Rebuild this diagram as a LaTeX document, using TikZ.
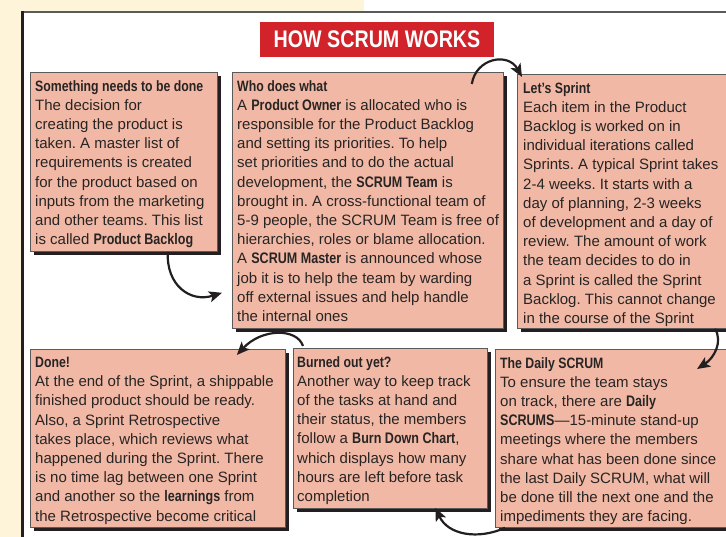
\documentclass[tikz,border=0pt]{standalone}
\usepackage{fontspec}
\setmainfont{Liberation Sans}
\newfontfamily\cb[FakeStretch=0.82]{Liberation Sans}
\usetikzlibrary{arrows.meta,shadows}
\definecolor{pinkc}{RGB}{241,185,165}
\definecolor{borderc}{RGB}{90,90,90}
\definecolor{shadowc}{RGB}{35,31,32}
\definecolor{textc}{RGB}{40,36,36}
\definecolor{redc}{RGB}{210,35,42}
\definecolor{creamc}{RGB}{253,244,218}
\newcommand\B[1]{{\cb\bfseries\fontsize{15.3}{19.2}\selectfont #1}}
\newcommand\Hd[1]{{\cb\bfseries\fontsize{15}{19.2}\selectfont #1}}
\frenchspacing
\begin{document}
\begin{tikzpicture}[x=1pt,y=-1pt,
  box/.style={draw=borderc, line width=0.8pt, fill=pinkc, anchor=north west, inner sep=0pt,
    general shadow={fill=shadowc, shadow xshift=3.5pt, shadow yshift=-3.5pt}},
  txt/.style={anchor=north west, inner sep=0pt, align=left, text=textc,
    font=\fontsize{15}{19.2}\selectfont\frenchspacing},
  conn/.style={line width=2.2pt, draw=shadowc, -{Stealth[length=13pt,width=11pt,inset=3pt]}}]
\useasboundingbox (0,0) rectangle (726,537);
\clip (0,0) rectangle (726,537);
% background
\fill[creamc] (0,0) rectangle (21,537);
\fill[creamc] (0,0) rectangle (364,11);
\draw[line width=2pt, color=borderc] (22,12) -- (726,12);
\draw[line width=3pt, color=shadowc] (22,11) -- (22,537);
% title
\node[fill=redc, minimum width=234pt, minimum height=35pt, inner sep=0pt,
  text=white, font=\cb\bfseries\fontsize{24}{24}\selectfont] (title) at (377,39.5) {HOW SCRUM WORKS};
% boxes
\node[box, minimum width=187pt, minimum height=179pt] (b1) at (30,72) {};
\node[box, minimum width=271pt, minimum height=256pt] (b2) at (232,72) {};
\node[box, minimum width=230pt, minimum height=254pt] (b3) at (517,74) {};
\node[box, minimum width=255pt, minimum height=178pt] (b4) at (30,349) {};
\node[box, minimum width=194pt, minimum height=160pt] (b5) at (293,348) {};
\node[box, minimum width=250pt, minimum height=178pt] (b6) at (495,349) {};
% texts
\node[txt] (t1) at ([xshift=5pt,yshift=-8pt]b1.north west) {\Hd{Something needs to be done}\\
The decision for\\
creating the product is\\
taken. A master list of\\
requirements is created\\
for the product based on\\
inputs from the marketing\\
and other teams. This list\\
is called \B{Product Backlog}};
\node[txt] (t2) at ([xshift=5pt,yshift=-8pt]b2.north west) {\Hd{Who does what}\\
A \B{Product Owner} is allocated who is\\
responsible for the Product Backlog\\
and setting its priorities. To help\\
set priorities and to do the actual\\
development, the \B{SCRUM Team} is\\
brought in. A cross-functional team of\\
5-9 people, the SCRUM Team is free of\\
hierarchies, roles or blame allocation.\\
A \B{SCRUM Master} is announced whose\\
job it is to help the team by warding\\
off external issues and help handle\\
the internal ones};
\node[txt] (t3) at ([xshift=6pt,yshift=-8pt]b3.north west) {\Hd{Let’s Sprint}\\
Each item in the Product\\
Backlog is worked on in\\
individual iterations called\\
Sprints. A typical Sprint takes\\
2-4 weeks. It starts with a\\
day of planning, 2-3 weeks\\
of development and a day of\\
review. The amount of work\\
the team decides to do in\\
a Sprint is called the Sprint\\
Backlog. This cannot change\\
in the course of the Sprint};
\node[txt] (t4) at ([xshift=5pt,yshift=-8pt]b4.north west) {\Hd{Done!}\\
At the end of the Sprint, a shippable\\
finished product should be ready.\\
Also, a Sprint Retrospective\\
takes place, which reviews what\\
happened during the Sprint. There\\
is no time lag between one Sprint\\
and another so the \B{learnings} from\\
the Retrospective become critical};
\node[txt] (t5) at ([xshift=4pt,yshift=-8pt]b5.north west) {\Hd{Burned out yet?}\\
Another way to keep track\\
of the tasks at hand and\\
their status, the members\\
follow a \B{Burn Down Chart},\\
which displays how many\\
hours are left before task\\
completion};
\node[txt] (t6) at ([xshift=5pt,yshift=-8pt]b6.north west) {\Hd{The Daily SCRUM}\\
To ensure the team stays\\
on track, there are \B{Daily}\\
\B{SCRUMS}—15-minute stand-up\\
meetings where the members\\
share what has been done since\\
the last Daily SCRUM, what will\\
be done till the next one and the\\
impediments they are facing.};
% connector end points
\coordinate (s1) at ([xshift=-50pt]b1.south east);
\coordinate (e1) at ([xshift=-10pt,yshift=36pt]b2.south west);
\coordinate (s2) at ([xshift=-32pt,yshift=-12pt]b2.north east);
\coordinate (e2) at ([xshift=5pt,yshift=-3pt]b3.north west);
\coordinate (s3) at ([xshift=198pt]b3.south west);
\coordinate (e3) at ([xshift=202pt,yshift=-20pt]b6.north west);
\coordinate (s4) at ([xshift=10pt,yshift=2pt]b5.north west);
\coordinate (e4) at ([xshift=-49pt,yshift=-6pt]b4.north east);
\coordinate (s5) at ([xshift=10pt]b6.south west);
\coordinate (e5) at ([xshift=45pt,yshift=1pt]b5.south);
% connectors
\draw[conn] (s1) .. controls (166,285) and (190,303) .. (e1);
\draw[conn] (s2) .. controls (476,58) and (508,52) .. (e2);
\draw[conn] (s3) .. controls (723,342) and (714,358) .. (e3);
\draw[conn] (s4) .. controls (297,328) and (262,328) .. (e4);
\draw[conn] (s5) .. controls (478,540) and (448,535) .. (e5);
\end{tikzpicture}
\end{document}
